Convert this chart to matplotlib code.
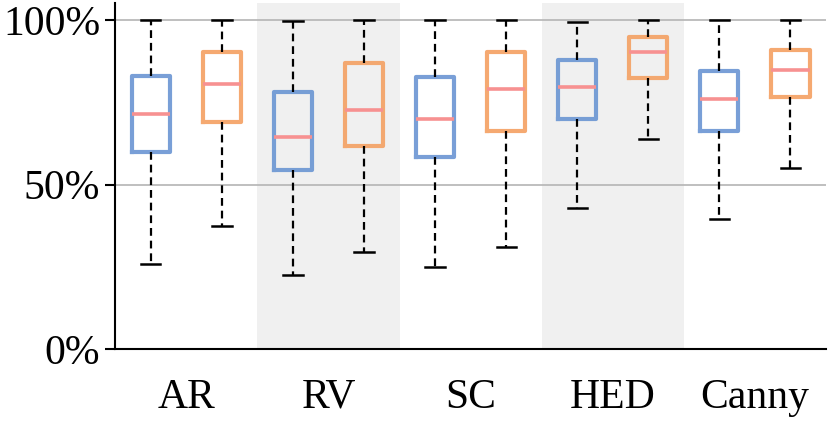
import matplotlib
matplotlib.use('Agg')
import matplotlib.pyplot as plt
from matplotlib.ticker import FuncFormatter

# datos (en %)
categorias = ['AR', 'RV', 'SC', 'HED', 'Canny']

azul_min = [25.8, 22.5, 25.0, 42.9, 39.6]
azul_q1 = [59.9, 54.5, 58.4, 70.0, 66.4]
azul_med = [71.6, 64.6, 70.0, 79.6, 76.1]
azul_q3 = [83.1, 78.1, 82.8, 87.9, 84.5]
azul_max = [100.0, 99.8, 100.0, 99.6, 100.0]

naranja_min = [37.4, 29.4, 31.1, 63.9, 55.1]
naranja_q1 = [69.2, 61.8, 66.4, 82.5, 76.6]
naranja_med = [80.6, 72.8, 79.1, 90.3, 84.9]
naranja_q3 = [90.5, 86.9, 90.5, 95.0, 91.0]
naranja_max = [100.0, 100.0, 100.0, 100.0, 100.0]

plt.rcParams['font.family'] = ['Liberation Serif', 'DejaVu Serif']

fig = plt.figure(figsize=(8.3, 4.33), dpi=100)
ax = fig.add_axes([0.139, 0.194, 0.856, 0.799])

# bandas grises
for i in [1, 3]:
    ax.axvspan(i + 0.5, i + 1.5, color='#f0f0f0', zorder=0, lw=0)

for y in [50, 100]:
    ax.axhline(y, color='#b4b4b4', lw=1.2, zorder=1)


def stats(mn, q1, med, q3, mx):
    return [dict(whislo=a, q1=b, med=c, q3=d, whishi=e, fliers=[])
            for a, b, c, d, e in zip(mn, q1, med, q3, mx)]


pos = list(range(1, len(categorias) + 1))
series = [
    (stats(azul_min, azul_q1, azul_med, azul_q3, azul_max), -0.25, '#6a95d3'),
    (stats(naranja_min, naranja_q1, naranja_med, naranja_q3, naranja_max), 0.25, '#f4a062'),
]

for st, off, col in series:
    ax.bxp(st, positions=[p + off for p in pos], widths=0.27, showfliers=False,
           boxprops=dict(color=col, lw=3, alpha=0.9),
           medianprops=dict(color='#f79191', lw=2.6),
           whiskerprops=dict(color='black', lw=1.6, linestyle=(0, (3.5, 2.2))),
           capprops=dict(color='black', lw=1.8),
           zorder=3)

ax.set_xlim(0.5, 5.5)
ax.set_ylim(0, 105.3)
ax.set_xticks(pos)
ax.set_xticklabels(categorias)
ax.set_yticks([0, 50, 100])
ax.yaxis.set_major_formatter(FuncFormatter(lambda v, p: f'{v:.0f}%'))
ax.tick_params(axis='x', length=0, pad=21, labelsize=30)
ax.tick_params(axis='y', length=7, width=1.5, pad=4, labelsize=30)

for s in ['top', 'right']:
    ax.spines[s].set_visible(False)
for s in ['left', 'bottom']:
    ax.spines[s].set_linewidth(1.5)

fig.savefig('out.png', dpi=100)
